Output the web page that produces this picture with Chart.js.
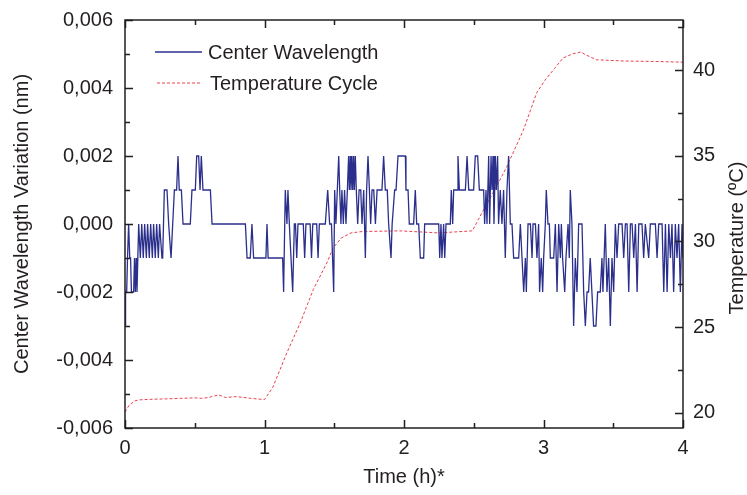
<!DOCTYPE html>
<html><head><meta charset="utf-8">
<script src="https://cdn.jsdelivr.net/npm/chart.js@4/dist/chart.umd.min.js"></script>
<style>html,body{margin:0;padding:0;background:#fff;}#wrap{width:747px;height:495px;}</style>
</head><body><div id="wrap"><canvas id="c" width="747" height="495"></canvas></div>
<script>
// Center wavelength variation (nm) vs time (h)
const wlTime = [
 0,0.004,0.012,0.018,0.026,0.034,0.040,0.046,0.062,0.068,0.074,0.080,0.086,0.092,0.098,0.110,0.120,0.131,0.141,0.153,
 0.162,0.174,0.184,0.196,0.205,0.217,0.227,0.239,0.248,0.265,0.270,0.282,0.301,0.313,0.330,0.342,0.354,0.370,0.380,0.389,
 0.404,0.416,0.468,0.480,0.504,0.514,0.528,0.538,0.547,0.559,0.612,0.624,0.863,0.875,0.898,0.910,0.922,
 1.010,1.018,1.026,1.130,1.137,1.149,1.161,1.168,1.178,1.190,1.202,1.214,1.222,1.231,1.240,1.278,1.288,1.297,1.327,1.337,
 1.346,1.374,1.384,1.393,1.436,1.453,1.467,1.480,1.496,1.503,
 1.512,1.522,1.532,1.539,1.548,1.555,1.565,1.574,1.584,1.594,1.603,1.608,1.615,1.620,1.627,1.632,1.639,1.644,1.651,1.658,
 1.668,1.678,1.690,1.699,1.711,1.723,1.732,1.742,1.752,1.761,1.771,1.783,1.795,1.807,1.831,1.842,1.854,1.866,1.880,1.890,
 1.907,1.915,1.921,1.933,1.943,1.957,
 2.010,2.014,2.029,2.038,2.069,2.081,2.091,2.105,2.117,2.141,2.148,2.249,2.256,2.265,2.272,2.284,2.292,2.301,2.332,2.339,
 2.349,2.356,2.380,2.387,2.397,2.440,2.452,2.464,2.499,2.511,2.528,2.540,2.571,2.578,2.588,2.595,2.607,2.614,2.624,2.631,
 2.638,2.645,2.655,2.662,2.671,2.678,2.690,2.702,2.714,2.726,2.738,2.750,2.762,2.774,2.786,2.822,2.834,2.846,2.858,2.870,
 2.877,2.889,2.906,2.918,2.925,2.942,2.953,2.965,2.972,2.984,2.994,
 3.001,3.013,3.020,3.032,3.042,3.049,3.073,3.085,3.097,3.109,3.121,3.128,3.137,3.152,3.161,3.176,3.185,3.192,3.204,3.216,
 3.228,3.240,3.252,3.276,3.288,3.300,3.312,3.323,3.335,3.347,3.359,3.376,3.388,3.407,3.419,3.426,3.443,3.455,3.467,3.479,
 3.491,3.503,3.515,3.527,3.539,3.563,3.575,3.587,3.599,3.611,3.623,3.635,3.647,3.659,3.671,3.683,3.706,3.718,3.730,3.754,
 3.766,3.802,3.814,3.826,3.850,3.862,3.874,3.886,3.898,3.910,3.921,3.933,3.945,3.957,3.969,3.981,3.993,4.000
];
const wlValue = [
 -0.003,-0.002,-0.002,-0.001,0,-0.001,-0.001,-0.002,-0.002,-0.001,-0.002,-0.001,-0.002,-0.001,0,-0.001,0,-0.001,0,-0.001,
 0,-0.001,0,-0.001,0,-0.001,0,-0.001,0,-0.001,-0.001,0.001,0.001,0,-0.001,0,0.001,0.001,0.002,0.001,
 0.001,0,0,0.001,0.001,0.002,0.002,0.001,0.002,0.001,0.001,0,0,-0.001,-0.001,0,-0.001,
 -0.001,0,-0.001,-0.001,-0.002,0.001,0,0.001,0,-0.001,-0.002,0,0,-0.001,0,0,-0.001,0,0,-0.001,
 0,0,-0.001,0,0,0.001,0,0,-0.002,0.001,
 0,0.001,0.002,0.001,0,0.001,0,0.001,0,0.001,0.002,0.001,0.002,0.001,0.002,0.001,0.002,0.001,0.002,0.001,
 0,0.001,0.001,0,0.001,-0.001,0.001,0.002,0.001,0,0.001,0.001,0,0.001,0.001,0.001,0.002,0.001,0.001,0,
 -0.001,0,0,0.001,0.001,0.002,
 0.002,0.001,0.001,0,0,0.001,0,0,-0.001,-0.001,0,0,-0.001,0,-0.001,0,-0.001,0,0,0.001,
 0,0.001,0.001,0.002,0.001,0.001,0.002,0.001,0.001,0.002,0.002,0.001,0.001,0,0.001,0,0.002,0,0.002,0.001,
 0.002,0,0.002,0.001,0.002,0,0.001,0,0.001,-0.001,0.001,0.002,0,0,-0.001,-0.001,0,-0.001,-0.002,-0.001,
 -0.002,0,0,-0.001,0,0,-0.001,0,-0.002,-0.001,-0.002,
 -0.001,0,0.001,0,0,-0.001,-0.001,0,-0.002,0,-0.001,0,-0.001,-0.002,-0.001,0,-0.001,0.001,0,-0.003,
 -0.001,-0.002,0,0,-0.002,-0.003,-0.002,-0.002,-0.001,-0.002,-0.003,-0.003,-0.002,-0.002,-0.001,-0.002,0,-0.002,-0.001,-0.003,
 -0.001,-0.002,0,-0.001,0,0,-0.001,0,0,-0.002,0,0,-0.001,0,-0.002,0,0,-0.001,0,-0.001,
 0,0,-0.001,0,0,-0.002,0,-0.002,0,-0.001,0,-0.002,0,-0.001,0,-0.002,0,-0.001
];
// Temperature cycle (ºC) vs time (h)
const tempTime = [0,0.03,0.07,0.10,0.20,0.30,0.40,0.50,0.55,0.60,0.67,0.72,0.80,0.90,1.00,1.06,1.16,1.256,1.35,1.45,
 1.49,1.55,1.62,1.70,1.97,2.25,2.49,2.567,2.65,2.736,2.856,2.951,3.01,3.08,3.14,3.21,3.27,3.30,3.38,3.57,3.80,4.00];
const tempValue = [20.05,20.45,20.70,20.76,20.80,20.82,20.85,20.88,20.85,20.90,21.05,20.90,20.95,20.85,20.78,21.5,23.5,25.25,27.2,28.8,
 29.6,30.2,30.5,30.58,30.62,30.5,30.62,31.8,33.0,34.35,36.5,38.67,39.4,40.1,40.7,40.95,41.05,40.9,40.6,40.53,40.5,40.46];

const seriesNames = ['Center Wavelength', 'Temperature Cycle'];
const axisTitles = ['Time (h)*', 'Center Wavelength Variation (nm)', 'Temperature (ºC)'];

const BLUE = 'rgb(43,47,140)';
const RED = 'rgb(232,66,80)';
const INK = '#231f20';
const FONT = "'Liberation Sans', Arial, sans-serif";

Chart.defaults.font.family = FONT;
Chart.defaults.font.size = 20;
Chart.defaults.color = INK;

const frameTicks = {
  id: 'frameTicks',
  afterDatasetsDraw(chart) {
    const ctx = chart.ctx, a = chart.chartArea;
    ctx.save();
    ctx.strokeStyle = INK; ctx.lineWidth = 1.5;
    const sx = chart.scales.x, sy = chart.scales.y, sy1 = chart.scales.y1;
    ctx.beginPath();
    sx.ticks.forEach(t => {
      const p = Math.round(sx.getPixelForValue(t.value)) + 0.5;
      const major = Math.abs(t.value - Math.round(t.value)) < 1e-6;
      const L = major ? 8 : 5;
      ctx.moveTo(p, a.bottom); ctx.lineTo(p, a.bottom - L);
      ctx.moveTo(p, a.top); ctx.lineTo(p, a.top + L);
    });
    sy.ticks.forEach(t => {
      const p = Math.round(sy.getPixelForValue(t.value)) + 0.5;
      const major = Math.round(t.value * 1000) % 2 === 0;
      const L = major ? 8 : 5;
      ctx.moveTo(a.left, p); ctx.lineTo(a.left + L, p);
    });
    sy1.ticks.forEach(t => {
      const p = Math.round(sy1.getPixelForValue(t.value)) + 0.5;
      const major = Math.abs(t.value % 5) < 1e-6;
      const L = major ? 8 : 5;
      ctx.moveTo(a.right, p); ctx.lineTo(a.right - L, p);
    });
    ctx.stroke();
    ctx.strokeRect(a.left, a.top, a.right - a.left, a.bottom - a.top);
    // legend
    ctx.font = '20px ' + FONT;
    ctx.fillStyle = INK;
    ctx.textBaseline = 'middle';
    ctx.textAlign = 'left';
    ctx.lineWidth = 1.3;
    ctx.strokeStyle = BLUE;
    ctx.beginPath(); ctx.moveTo(a.left + 30, a.top + 32); ctx.lineTo(a.left + 77, a.top + 32); ctx.stroke();
    ctx.fillText(seriesNames[0], a.left + 83, a.top + 33);
    ctx.strokeStyle = RED; ctx.lineWidth = 1;
    ctx.setLineDash([3, 2]);
    ctx.beginPath(); ctx.moveTo(a.left + 32, a.top + 63); ctx.lineTo(a.left + 77, a.top + 63); ctx.stroke();
    ctx.setLineDash([]);
    ctx.fillText(seriesNames[1], a.left + 85, a.top + 64);
    // right axis title (reads bottom to top)
    ctx.save();
    ctx.translate(737, (a.top + a.bottom) / 2 + 14);
    ctx.rotate(-Math.PI / 2);
    ctx.textAlign = 'center';
    ctx.fillText(axisTitles[2], 0, 0);
    ctx.restore();
    ctx.restore();
  }
};

new Chart(document.getElementById('c'), {
  type: 'line',
  data: {
    datasets: [
      { label: seriesNames[0], data: wlTime.map((t, i) => ({x: t, y: wlValue[i]})), yAxisID: 'y',
        borderColor: BLUE, borderWidth: 1.3, pointRadius: 0, tension: 0, fill: false },
      { label: seriesNames[1], data: tempTime.map((t, i) => ({x: t, y: tempValue[i]})), yAxisID: 'y1',
        borderColor: RED, borderWidth: 1, borderDash: [3, 2], pointRadius: 0, tension: 0, fill: false }
    ]
  },
  options: {
    responsive: false, animation: false, devicePixelRatio: 1,
    layout: { padding: { top: 20, left: 0, right: 0, bottom: 0 } },
    plugins: { legend: { display: false }, tooltip: { enabled: false } },
    scales: {
      x: {
        type: 'linear', position: 'bottom', min: 0, max: 4,
        grid: { display: false, drawTicks: false }, border: { display: false },
        ticks: { stepSize: 0.5, autoSkip: false, maxRotation: 0, padding: 8, color: INK,
          callback: v => Math.abs(v - Math.round(v)) < 1e-6 ? String(Math.round(v)) : '' },
        title: { display: true, text: axisTitles[0], color: INK, padding: { top: 0, bottom: 6 } },
        afterFit: s => { s.height = 67; s.paddingLeft = 0; s.paddingRight = 0; }
      },
      y: {
        type: 'linear', position: 'left', min: -0.006, max: 0.006,
        grid: { display: false, drawTicks: false }, border: { display: false },
        ticks: { stepSize: 0.001, autoSkip: false, padding: 12, color: INK,
          callback: v => { const n = Math.round(v * 1000); if (n % 2 !== 0) return ''; return (n < 0 ? '-' : '') + (Math.abs(n) / 1000).toFixed(3).replace('.', ','); } },
        title: { display: true, text: axisTitles[1], color: INK, padding: { top: 10, bottom: 0 } },
        afterFit: s => { s.width = 125; s.paddingTop = 0; s.paddingBottom = 0; }
      },
      y1: {
        type: 'linear', position: 'right', min: 19.12, max: 42.92,
        grid: { display: false, drawTicks: false }, border: { display: false },
        ticks: { stepSize: 2.5, includeBounds: false, autoSkip: false, padding: 10, color: INK,
          callback: v => Math.abs(v % 5) < 1e-6 ? String(v) : '' },
        title: { display: false },
        afterFit: s => { s.width = 64; s.paddingTop = 0; s.paddingBottom = 0; }
      }
    }
  },
  plugins: [frameTicks]
});
</script>
</body></html>
